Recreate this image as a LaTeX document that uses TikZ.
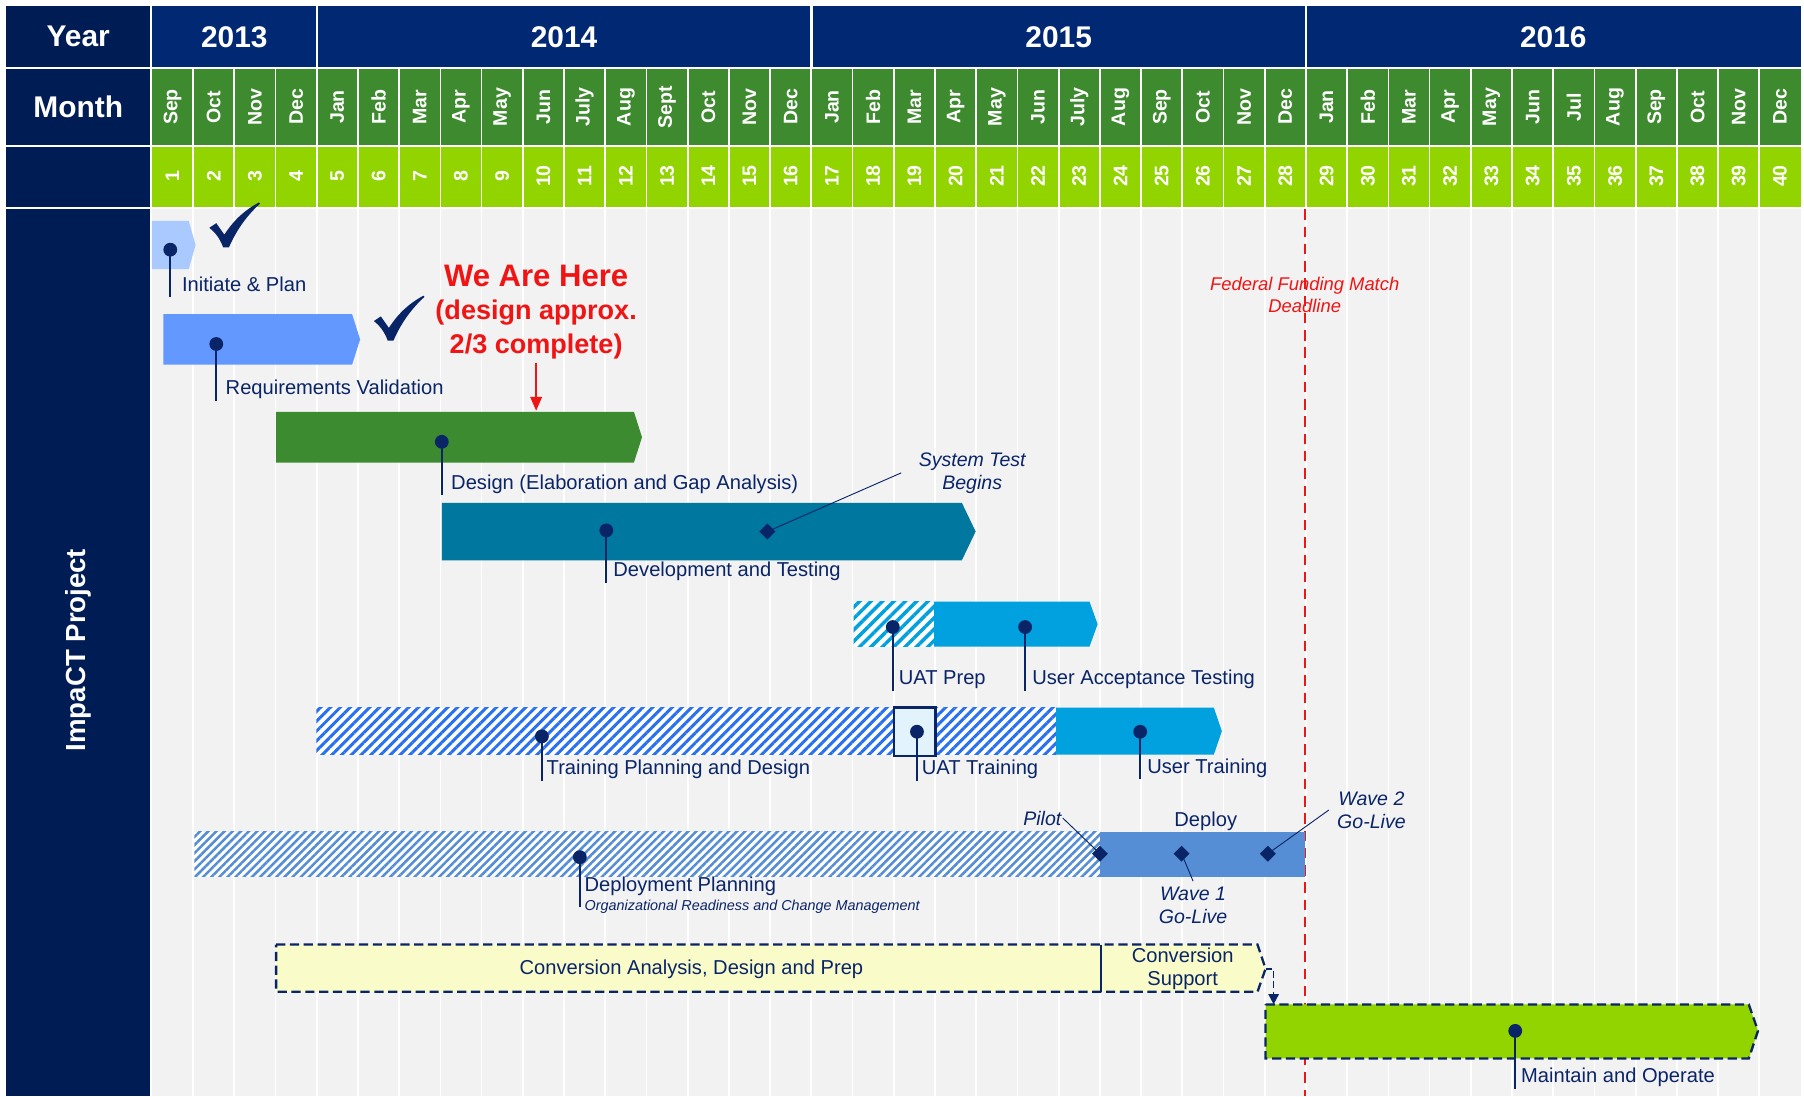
\documentclass[tikz,border=0pt]{standalone}
\usepackage{fontspec}
\setmainfont{Liberation Sans}
\usepackage{tikz}
\usetikzlibrary{patterns.meta}
\usetikzlibrary{arrows.meta}
\usetikzlibrary{shapes.geometric}
\tikzset{>=latex}
\definecolor{navy}{RGB}{0,28,84}
\definecolor{yearblue}{RGB}{0,40,115}
\definecolor{monthgreen}{RGB}{62,138,47}
\definecolor{numgreen}{RGB}{146,212,0}
\definecolor{ink}{RGB}{10,36,104}
\definecolor{paper}{RGB}{242,242,242}
\definecolor{initblue}{RGB}{170,202,255}
\definecolor{reqblue}{RGB}{98,152,255}
\definecolor{designgreen}{RGB}{61,139,49}
\definecolor{devblue}{RGB}{0,119,159}
\definecolor{uatblue}{RGB}{0,161,222}
\definecolor{trainblue}{RGB}{40,112,240}
\definecolor{deployblue}{RGB}{85,142,213}
\definecolor{convyellow}{RGB}{249,252,200}
\definecolor{uatbox}{RGB}{227,243,252}
\definecolor{alarm}{RGB}{240,20,20}
\tikzset{
  head/.style={text=white, font=\fontsize{26}{28}\selectfont\bfseries},
  mon/.style={text=white, font=\fontsize{17}{19}\selectfont\bfseries, rotate=90},
  lbl/.style={text=ink, font=\fontsize{17.5}{20}\selectfont, inner sep=1pt, anchor=west, text height=12.5pt, text depth=4pt},
  note/.style={text=ink, font=\fontsize{17}{20}\selectfont\itshape, align=center, inner sep=1pt},
  pin/.style={circle, fill=ink, inner sep=0pt, minimum size=12pt},
  mile/.style={diamond, fill=ink, inner sep=0pt, minimum size=14pt},
  stem/.style={ink, line width=2pt},
  lead/.style={ink, line width=0.8pt},
  outline/.style={draw=ink, line width=2pt, dash pattern=on 8pt off 4pt},
  donemark/.pic={\fill[ink] (0,21) -- (6,17) -- (13,27) .. controls (22,13) and (32,5) .. (43,-1) -- (44,0) .. controls (33,10) and (24,22) .. (17,38) -- (12,38) .. controls (9,30) and (5,25) .. cycle;}
}
\begin{document}
\begin{tikzpicture}[x=1pt,y=-1pt]
  \useasboundingbox (0,0) rectangle (1568,953);
  \fill[navy] (5,5) rectangle (131,953);
  \fill[yearblue] (131,5) rectangle (1565,59);
  \fill[monthgreen] (131,59) rectangle (1565,127);
  \fill[numgreen] (131,127) rectangle (1565,181);
  \fill[paper] (131,181) rectangle (1565,953);
  \foreach \i in {1,...,39}
    \draw[white, line width=1.5pt] ({132+\i*35.825},59) -- ({132+\i*35.825},953);
  \foreach \i in {4,16,28}
    \draw[white, line width=2pt] ({132+\i*35.825},5) -- ({132+\i*35.825},59);
  \draw[white, line width=2pt] (5,59) -- (1565,59) (5,127) -- (1565,127) (5,181) -- (1565,181) (131,5) -- (131,953);

  \node[head] (year) at (68,32) {Year};
  \node[head] (month) at (68,93) {Month};
  \node[head] (y13) at (203.65,32) {2013};
  \node[head] (y14) at (490.25,32) {2014};
  \node[head] (y15) at (920.2,32) {2015};
  \node[head] (y16) at (1350.1,32) {2016};
  \foreach \m [count=\i] in {Sep,Oct,Nov,Dec,Jan,Feb,Mar,Apr,May,Jun,July,Aug,Sept,Oct,Nov,Dec,Jan,Feb,Mar,Apr,May,Jun,July,Aug,Sep,Oct,Nov,Dec,Jan,Feb,Mar,Apr,May,Jun,Jul,Aug,Sep,Oct,Nov,Dec}{
    \node[mon] (m\i) at ({132+(\i-0.5)*35.825},93) {\m};
    \node[mon] (n\i) at ({132+(\i-0.5)*35.825},153) {\i};
  }
  \node[text=white, font=\fontsize{24}{26}\selectfont\bfseries, rotate=90] (proj) at (68,565) {ImpaCT Project};

  \draw[alarm, line width=2pt, dash pattern=on 9pt off 6pt] (1134,182) -- (1134,953);
  \node[note, text=alarm, font=\fontsize{16}{19}\selectfont\itshape] (fed) at (1134,256) {Federal Funding Match\\Deadline};

  \fill[initblue] (132,192) -- (164,192) -- (170,213) -- (164,234) -- (132,234) -- cycle;
  \fill[reqblue] (142,273) -- (306,273) -- (313,295) -- (306,317) -- (142,317) -- cycle;
  \fill[designgreen] (240,358) -- (551,358) -- (558,380) -- (551,402) -- (240,402) -- cycle;
  \fill[devblue] (384,437) -- (836,437) -- (848,462) -- (836,487) -- (384,487) -- cycle;
  \fill[white] (742,523) rectangle (812,562);
  \fill[pattern={Lines[angle=45,distance=7pt,line width=3pt]}, pattern color=uatblue] (742,523) rectangle (812,562);
  \fill[uatblue] (812,523) -- (947,523) -- (954,542.5) -- (947,562) -- (812,562) -- cycle;
  \fill[white] (275,615) rectangle (918,656);
  \fill[pattern={Lines[angle=45,distance=6pt,line width=2.6pt]}, pattern color=trainblue] (275,615) rectangle (918,656);
  \fill[uatblue] (918,615) -- (1055,615) -- (1062,635.5) -- (1055,656) -- (918,656) -- cycle;
  \filldraw[fill=uatbox, draw=ink, line width=2pt] (777,615) rectangle (813,657);
  \fill[white] (169,723) rectangle (956,762);
  \fill[pattern={Lines[angle=45,distance=5pt,line width=2.2pt]}, pattern color=deployblue] (169,723) rectangle (956,762);
  \fill[deployblue] (956,723) rectangle (1134,762);
  \filldraw[fill=convyellow, outline] (240,821) -- (1093,821) -- (1100,842) -- (1093,862) -- (240,862) -- cycle;
  \draw[ink, line width=1.5pt] (957,821) -- (957,862);
  \filldraw[fill=numgreen, outline] (1100,873) -- (1520,873) -- (1528,896) -- (1520,920) -- (1100,920) -- cycle;

  \pic at (182,177) {donemark};
  \pic at (325,258) {donemark};

  \node[align=center, text=alarm, font=\fontsize{23.5}{29}\selectfont\bfseries] (here) at (466,271) {{\fontsize{27}{29}\selectfont We Are Here}\\(design approx.\\2/3 complete)};
  \coordinate (dtop) at (466,357);
  \draw[alarm, line width=1.6pt, -{Triangle[width=10pt,length=12pt]}] (here.south) -- (dtop);

  \node[pin] (p1) at (148,217) {};
  \node[lbl] (l1) at (157,249) {Initiate \& Plan};
  \draw[stem] (p1.center) -- (p1 |- l1.south);
  \node[pin] (p2) at (188,299) {};
  \node[lbl] (l2) at (195,339) {Requirements Validation};
  \draw[stem] (p2.center) -- (p2 |- l2.south);
  \node[pin] (p3) at (384,384) {};
  \node[lbl] (l3) at (391,421) {Design (Elaboration and Gap Analysis)};
  \draw[stem] (p3.center) -- (p3 |- l3.south);
  \node[pin] (p4) at (527,461) {};
  \node[lbl] (l4) at (532,497) {Development and Testing};
  \draw[stem] (p4.center) -- (p4 |- l4.south);
  \node[pin] (p5) at (776,545) {};
  \node[lbl] (l5) at (780,591) {UAT Prep};
  \draw[stem] (p5.center) -- (p5 |- l5.south);
  \node[pin] (p6) at (891,545) {};
  \node[lbl] (l6) at (896,591) {User Acceptance Testing};
  \draw[stem] (p6.center) -- (p6 |- l6.south);
  \node[pin] (p7) at (471,640) {};
  \node[lbl] (l7) at (474,669) {Training Planning and Design};
  \draw[stem] (p7.center) -- (p7 |- l7.south);
  \node[pin] (p8) at (797,636) {};
  \node[lbl] (l8) at (800,669) {UAT Training};
  \draw[stem] (p8.center) -- (p8 |- l8.south);
  \node[pin] (p9) at (991,636) {};
  \node[lbl] (l9) at (996,668) {User Training};
  \draw[stem] (p9.center) -- (p9 |- l9.south);
  \node[pin] (p10) at (504,745) {};
  \node[lbl] (l10) at (507,771) {Deployment Planning};
  \node[text=ink, font=\fontsize{12.5}{14}\selectfont\itshape, inner sep=1pt, anchor=north west] (l10b) at ([yshift=-1pt]l10.south west) {Organizational Readiness and Change Management};
  \draw[stem] (p10.center) -- (p10 |- l10b.center);
  \node[pin] (p11) at (1317,896) {};
  \node[lbl] (l11) at (1321,937) {Maintain and Operate};
  \draw[stem] (p11.center) -- (p11 |- l11.south);

  \node[mile] (ms1) at (667,462) {};
  \node[note] (t1) at (845,411) {System Test\\Begins};
  \draw[lead] (ms1.center) -- ([xshift=-14pt]t1.west);
  \node[mile] (ms2) at (956,742) {};
  \node[note] (t2) at (906,711) {Pilot};
  \draw[lead] (t2.east) -- (ms2.center);
  \node[mile] (ms3) at (1027,742) {};
  \node[note] (t3) at (1037,787) {Wave 1\\Go-Live};
  \draw[lead] (ms3.center) -- ([yshift=4pt]t3.north);
  \node[mile] (ms4) at (1102,742) {};
  \node[note] (t4) at (1192,704) {Wave 2\\Go-Live};
  \draw[lead] (ms4.center) -- ([xshift=-6pt]t4.west);
  \node[lbl, anchor=center] (dep) at (1048,714) {Deploy};

  \node[lbl, anchor=center] (c1) at (601,843) {Conversion Analysis, Design and Prep};
  \node[lbl, anchor=center, align=center, text height=, text depth=, font=\fontsize{17.5}{19.5}\selectfont] (c2) at (1028,842) {Conversion\\Support};
  \coordinate (ctip) at (1100,842);
  \coordinate (mtop) at (1107,873);
  \draw[ink, line width=1.5pt, dash pattern=on 6pt off 3pt, -{Triangle[width=9pt,length=9pt]}] (ctip) -| (mtop);
\end{tikzpicture}
\end{document}
